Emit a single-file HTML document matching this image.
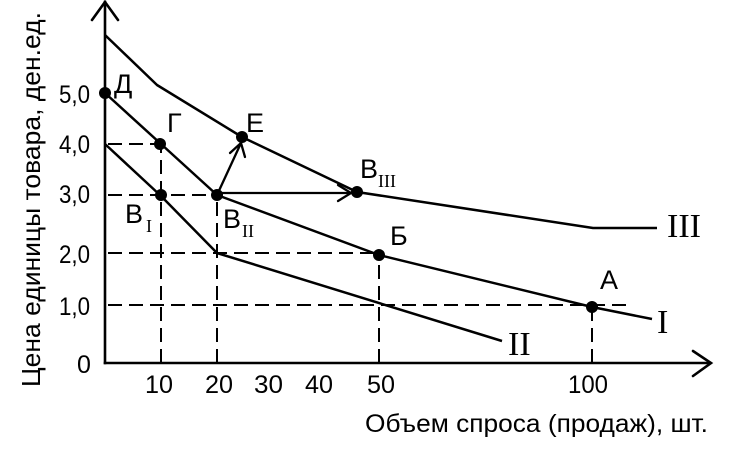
<!DOCTYPE html>
<html>
<head>
<meta charset="utf-8">
<style>
  html, body { margin: 0; padding: 0; background: #ffffff; }
  svg { display: block; }
  .sans { font-family: "Liberation Sans", Arial, sans-serif; fill: #000; }
  .serif { font-family: "Liberation Serif", "Times New Roman", serif; fill: #000; }
</style>
</head>
<body>
<svg width="731" height="452" viewBox="0 0 731 452" xmlns="http://www.w3.org/2000/svg">
  <rect width="731" height="452" fill="#fff"/>

  <!-- dashed guide lines -->
  <g stroke="#000" stroke-width="2" fill="none" stroke-dasharray="14 7">
    <path d="M105 144 L160 144" stroke-dashoffset="18"/>
    <path d="M105 195 L217 195" stroke-dashoffset="18"/>
    <path d="M105 253 L379 253" stroke-dashoffset="18"/>
    <path d="M105 305 L630 305" stroke-dashoffset="18"/>
    <path d="M161 363 L161 144"/>
    <path d="M217 363 L217 195"/>
    <path d="M379 363 L379 255"/>
    <path d="M592 363 L592 307"/>
  </g>

  <!-- axes -->
  <g stroke="#000" stroke-width="2.6" fill="none" stroke-linecap="square">
    <path d="M105 363 L105 2"/>
    <path d="M92 20 L105 2 L118 20" stroke-linecap="round" stroke-linejoin="miter"/>
    <path d="M105 363 L710 363"/>
    <path d="M693 351 L711 363 L693 376" stroke-linecap="round"/>
  </g>

  <!-- curves -->
  <g stroke="#000" stroke-width="2.5" fill="none" stroke-linejoin="round">
    <path d="M105 35 L157 85 L242 137 L357 192 L593 228 L657 228"/>
    <path d="M105 93 L161 144 L217 195 L379 255 L592 307 L652 319"/>
    <path d="M105 144 L161 196 L217 253 L502 341"/>
  </g>

  <!-- arrows -->
  <g stroke="#000" stroke-width="2.3" fill="none" stroke-linecap="round">
    <path d="M217 195 L241 143"/>
    <path d="M230 153 L241 143 L245 157"/>
    <path d="M217 193 L351 193"/>
    <path d="M338 185 L351 193 L338 201"/>
  </g>

  <!-- points -->
  <g fill="#000">
    <circle cx="105" cy="93" r="6"/>
    <circle cx="160" cy="144" r="6"/>
    <circle cx="161" cy="195" r="6"/>
    <circle cx="217" cy="195" r="6"/>
    <circle cx="242" cy="137" r="6"/>
    <circle cx="357" cy="192" r="6"/>
    <circle cx="379" cy="255" r="6"/>
    <circle cx="592" cy="307" r="6"/>
  </g>

  <!-- Y tick labels -->
  <g class="sans" font-size="25">
    <text x="59" y="103" textLength="31" lengthAdjust="spacingAndGlyphs">5,0</text>
    <text x="59" y="153" textLength="31" lengthAdjust="spacingAndGlyphs">4,0</text>
    <text x="59" y="203" textLength="31" lengthAdjust="spacingAndGlyphs">3,0</text>
    <text x="59" y="263" textLength="31" lengthAdjust="spacingAndGlyphs">2,0</text>
    <text x="59" y="315" textLength="31" lengthAdjust="spacingAndGlyphs">1,0</text>
    <text x="77" y="373">0</text>
  </g>

  <!-- X tick labels -->
  <g class="sans" font-size="25">
    <text x="145" y="393" textLength="28" lengthAdjust="spacingAndGlyphs">10</text>
    <text x="205" y="393" textLength="28" lengthAdjust="spacingAndGlyphs">20</text>
    <text x="254" y="393" textLength="29" lengthAdjust="spacingAndGlyphs">30</text>
    <text x="305" y="393" textLength="28" lengthAdjust="spacingAndGlyphs">40</text>
    <text x="367" y="393" textLength="28" lengthAdjust="spacingAndGlyphs">50</text>
    <text x="568" y="393" textLength="40" lengthAdjust="spacingAndGlyphs">100</text>
  </g>

  <!-- Axis titles -->
  <text class="sans" font-size="25" x="365" y="432" textLength="343" lengthAdjust="spacingAndGlyphs">Объем  спроса (продаж), шт.</text>
  <text class="sans" font-size="26" transform="translate(40,387) rotate(-90)" textLength="375" lengthAdjust="spacingAndGlyphs">Цена единицы товара, ден.ед.</text>

  <!-- Point labels -->
  <g class="sans" font-size="27">
    <text x="114" y="93">Д</text>
    <text x="167" y="132">Г</text>
    <text x="246" y="132">Е</text>
    <text x="390" y="245">Б</text>
    <text x="600" y="289">А</text>
    <text x="125" y="223">В</text>
    <text x="223" y="228">В</text>
    <text x="360" y="178">В</text>
  </g>
  <g class="serif" font-size="18">
    <text x="146" y="232">I</text>
    <text x="242" y="237">II</text>
    <text x="378" y="187">III</text>
  </g>

  <!-- Curve labels -->
  <g class="serif" font-size="34">
    <text x="667" y="237">III</text>
    <text x="657" y="333">I</text>
    <text x="508" y="355">II</text>
  </g>
</svg>
</body>
</html>
